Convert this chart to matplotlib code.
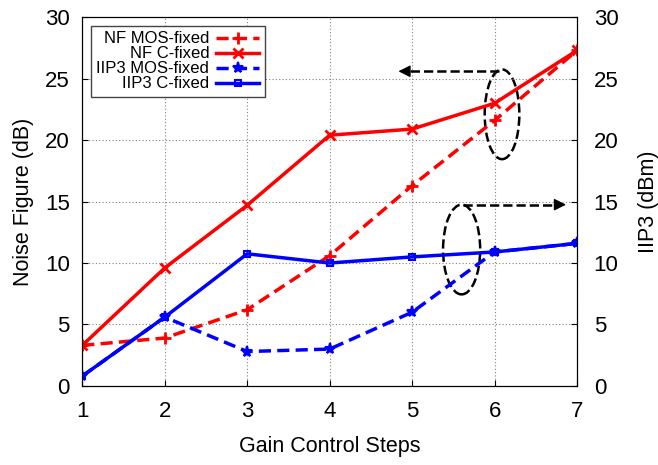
import numpy as np
import matplotlib
matplotlib.use('Agg')
import matplotlib.pyplot as plt
from matplotlib.patches import Ellipse

plt.rcParams['font.family'] = ['Liberation Sans', 'DejaVu Sans']

# Dados
passos = [1, 2, 3, 4, 5, 6, 7]
nf_mos = [3.3, 3.9, 6.2, 10.6, 16.3, 21.6, 27.3]
nf_c = [3.3, 9.6, 14.7, 20.4, 20.9, 23.0, 27.3]
iip3_mos = [0.8, 5.6, 2.8, 3.0, 6.0, 10.9, 11.6]
iip3_c = [0.8, 5.6, 10.75, 10.0, 10.5, 10.9, 11.6]

fig = plt.figure(figsize=(6.58, 4.65), dpi=100)
ax = fig.add_axes([0.125, 0.170, 0.752, 0.793])
ax2 = ax.twinx()

dash = (0, (3.5, 1.8))
l1, = ax.plot(passos, nf_mos, color='red', ls=dash, lw=2.5, marker='+', ms=9, mew=2, label='NF MOS-fixed')
l2, = ax.plot(passos, nf_c, color='red', lw=2.5, marker='x', ms=7, mew=2, label='NF C-fixed')
l3, = ax2.plot(passos, iip3_mos, color='blue', ls=dash, lw=2.5, marker='*', ms=8, mew=1.5, label='IIP3 MOS-fixed')
l4, = ax2.plot(passos, iip3_c, color='blue', lw=2.5, marker='s', ms=5, mew=1.5, mfc='none', label='IIP3 C-fixed')

for a in (ax, ax2):
    a.set_xlim(1, 7)
    a.set_ylim(0, 30)
    a.set_yticks(np.arange(0, 31, 5))
    a.tick_params(direction='in', labelsize=16, length=4)
ax.set_xticks(passos)
ax.tick_params(axis='x', pad=11)
ax.tick_params(axis='y', pad=9)
ax2.tick_params(axis='y', pad=12)
ax.grid(True, ls=(0, (1, 2)), color='gray', lw=0.8)

ax.set_xlabel('Gain Control Steps', fontsize=15.5, labelpad=10)
ax.set_ylabel('Noise Figure (dB)', fontsize=15.5, labelpad=8)
ax2.set_ylabel('IIP3 (dBm)', fontsize=15.5, labelpad=14)

leg = ax.legend(handles=[l1, l2, l3, l4], loc='upper left', markerfirst=False,
                fontsize=12, handlelength=2.6, labelspacing=0.0, borderaxespad=0.5,
                fancybox=False, edgecolor='#444444', framealpha=1, borderpad=0.35,
                handletextpad=0.4)
leg.get_frame().set_linewidth(1)

# Elipses e setas
e1 = Ellipse((6.09, 22.1), 0.42, 7.3, fill=False, ls='--', lw=1.8, color='black')
e2 = Ellipse((5.6, 11.1), 0.45, 7.3, fill=False, ls='--', lw=1.8, color='black')
ax.add_patch(e1)
ax.add_patch(e2)
ax.plot([6.05, 4.95], [25.6, 25.6], color='black', ls='--', lw=1.8)
ax.annotate('', xy=(4.8, 25.6), xytext=(4.98, 25.6),
            arrowprops=dict(arrowstyle='-|>', color='black', lw=1, mutation_scale=18))
ax.plot([5.62, 6.75], [14.75, 14.75], color='black', ls='--', lw=1.8)
ax.annotate('', xy=(6.9, 14.75), xytext=(6.72, 14.75),
            arrowprops=dict(arrowstyle='-|>', color='black', lw=1, mutation_scale=18))

plt.savefig('out.png', dpi=100)
